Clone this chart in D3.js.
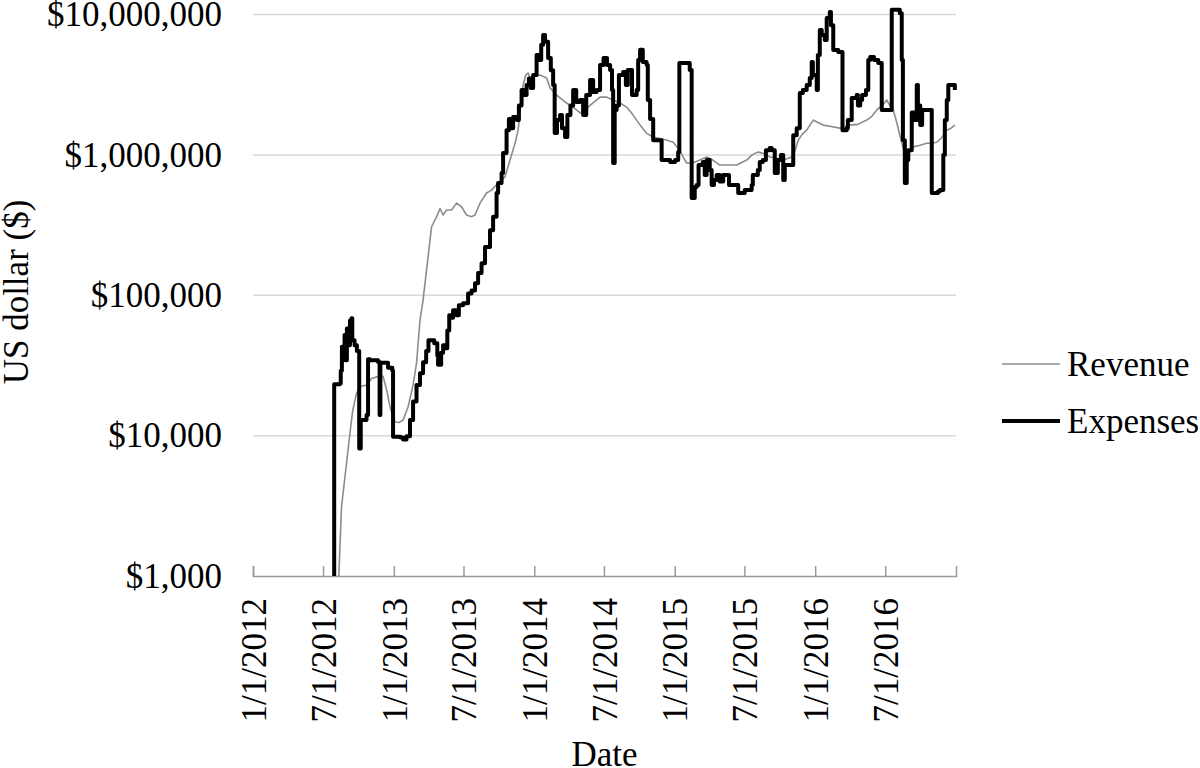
<!DOCTYPE html>
<html>
<head>
<meta charset="utf-8">
<script src="https://cdn.jsdelivr.net/npm/d3@7"></script>
<style>
  html, body { margin: 0; padding: 0; background: #fff; }
  svg { display: block; font-family: "Liberation Serif", "Times New Roman", serif; }
</style>
</head>
<body>
<div id="chart"></div>
<script>
// tick values
const yTickValues = [1e3, 1e4, 1e5, 1e6, 1e7];
const xTickDates = ["2012-01-01", "2012-07-01", "2013-01-01", "2013-07-01", "2014-01-01",
  "2014-07-01", "2015-01-01", "2015-07-01", "2016-01-01", "2016-07-01"];
const xDomain = ["2012-01-01", "2017-01-01"];
const seriesNames = ["Revenue", "Expenses"];

// Revenue
const revenue = [
  ["2012-08-11", 1000], ["2012-08-18", 3100], ["2012-09-09", 10400], ["2012-09-16", 15000],
  ["2012-09-26", 20000], ["2012-10-07", 22500], ["2012-10-22", 22900], ["2012-11-04", 25500],
  ["2012-11-17", 26200], ["2012-12-04", 26500], ["2012-12-14", 20800], ["2012-12-22", 16000],
  ["2013-01-04", 12500], ["2013-01-14", 12400], ["2013-01-25", 12900], ["2013-02-07", 16000],
  ["2013-02-20", 22900], ["2013-03-01", 32800], ["2013-03-10", 66400], ["2013-03-18", 92200],
  ["2013-03-27", 151000], ["2013-04-09", 307000], ["2013-04-22", 362000], ["2013-05-01", 415000],
  ["2013-05-09", 373000], ["2013-05-18", 405000], ["2013-05-31", 405000], ["2013-06-13", 453000],
  ["2013-06-26", 427000], ["2013-07-09", 373000], ["2013-07-22", 362000], ["2013-07-31", 373000],
  ["2013-08-13", 453000], ["2013-08-30", 535000], ["2013-09-12", 561000], ["2013-09-29", 630000],
  ["2013-10-17", 698000], ["2013-10-30", 918000], ["2013-11-12", 1210000], ["2013-11-20", 1500000],
  ["2013-11-27", 2250000], ["2013-12-03", 3150000], ["2013-12-10", 3710000], ["2013-12-16", 3830000],
  ["2013-12-22", 3450000], ["2013-12-29", 3600000], ["2014-01-16", 3710000], ["2014-02-02", 3530000],
  ["2014-02-11", 3000000], ["2014-02-28", 2670000], ["2014-03-26", 2340000], ["2014-04-12", 2190000],
  ["2014-04-30", 1990000], ["2014-05-13", 2090000], ["2014-05-26", 2250000], ["2014-06-21", 2580000],
  ["2014-07-07", 2580000], ["2014-07-25", 2460000], ["2014-08-12", 2340000], ["2014-08-29", 2190000],
  ["2014-09-15", 1920000], ["2014-10-03", 1630000], ["2014-10-19", 1430000], ["2014-11-06", 1340000],
  ["2014-11-24", 1310000], ["2014-12-12", 1270000], ["2014-12-28", 1230000], ["2015-01-14", 1080000],
  ["2015-01-23", 965000], ["2015-02-01", 875000], ["2015-02-17", 875000], ["2015-03-07", 918000],
  ["2015-03-25", 965000], ["2015-04-10", 918000], ["2015-04-28", 846000], ["2015-05-19", 846000],
  ["2015-06-11", 846000], ["2015-07-07", 918000], ["2015-07-21", 1000000], ["2015-08-06", 1050000],
  ["2015-08-21", 1020000], ["2015-09-05", 965000], ["2015-09-21", 950000], ["2015-10-10", 918000],
  ["2015-11-01", 965000], ["2015-11-10", 1080000], ["2015-11-18", 1270000], ["2015-11-28", 1400000],
  ["2015-12-10", 1500000], ["2015-12-27", 1770000], ["2016-01-08", 1700000], ["2016-01-22", 1630000],
  ["2016-02-08", 1600000], ["2016-03-05", 1550000], ["2016-03-31", 1630000], ["2016-04-21", 1650000],
  ["2016-05-14", 1770000], ["2016-05-28", 1890000], ["2016-06-09", 2090000], ["2016-06-23", 2250000],
  ["2016-07-05", 2460000], ["2016-07-13", 2250000], ["2016-07-22", 2090000], ["2016-07-31", 1700000],
  ["2016-08-08", 1380000], ["2016-08-21", 1000000], ["2016-08-31", 1080000], ["2016-09-12", 1140000],
  ["2016-09-30", 1170000], ["2016-10-17", 1210000], ["2016-10-28", 1210000], ["2016-11-12", 1230000],
  ["2016-11-23", 1310000], ["2016-12-08", 1500000], ["2016-12-19", 1550000], ["2016-12-29", 1630000]
];

// Expenses, drawn as steps
const expenses = [
  ["2012-07-30", 1000], ["2012-07-30", 23200], ["2012-08-14", 23500], ["2012-08-16", 29000],
  ["2012-08-19", 43000], ["2012-08-22", 38000], ["2012-08-26", 52000], ["2012-08-28", 34500],
  ["2012-09-01", 58000], ["2012-09-05", 44000], ["2012-09-09", 66000], ["2012-09-13", 68700],
  ["2012-09-15", 47800], ["2012-09-21", 44000], ["2012-09-27", 40000], ["2012-10-03", 8100],
  ["2012-10-07", 12900], ["2012-10-22", 14000], ["2012-10-26", 35000], ["2012-10-31", 34500],
  ["2012-11-21", 33500], ["2012-11-25", 33000], ["2012-11-25", 14000], ["2012-11-27", 33000],
  ["2012-12-17", 30500], ["2012-12-28", 29000], ["2012-12-30", 9800], ["2013-01-18", 9700],
  ["2013-01-25", 9400], ["2013-02-03", 9900], ["2013-02-12", 12900], ["2013-02-20", 17500],
  ["2013-03-01", 22900], ["2013-03-10", 27800], ["2013-03-18", 33300], ["2013-03-26", 40000],
  ["2013-04-01", 47800], ["2013-04-08", 47800], ["2013-04-16", 45500], ["2013-04-24", 37000],
  ["2013-04-26", 32000], ["2013-05-04", 39000], ["2013-05-09", 44000], ["2013-05-14", 42000],
  ["2013-05-20", 56000], ["2013-05-25", 72000], ["2013-05-30", 69000], ["2013-06-04", 78300],
  ["2013-06-12", 72000], ["2013-06-19", 85000], ["2013-06-30", 87800], ["2013-07-13", 103000],
  ["2013-07-22", 108000], ["2013-07-31", 122000], ["2013-08-08", 144000], ["2013-08-17", 169000],
  ["2013-08-26", 221000], ["2013-09-08", 291000], ["2013-09-16", 362000], ["2013-09-25", 535000],
  ["2013-09-29", 630000], ["2013-10-08", 742000], ["2013-10-12", 1030000], ["2013-10-21", 1500000],
  ["2013-10-27", 1800000], ["2013-11-02", 1550000], ["2013-11-07", 1860000], ["2013-11-17", 1770000],
  ["2013-11-22", 2250000], ["2013-11-29", 2900000], ["2013-12-05", 2670000], ["2013-12-12", 3150000],
  ["2013-12-18", 3500000], ["2013-12-23", 3000000], ["2013-12-29", 3700000], ["2014-01-07", 5140000],
  ["2014-01-13", 4740000], ["2014-01-19", 6100000], ["2014-01-24", 7150000], ["2014-01-29", 6400000],
  ["2014-02-06", 4900000], ["2014-02-13", 4000000], ["2014-02-19", 3150000], ["2014-02-23", 1430000],
  ["2014-03-01", 1770000], ["2014-03-09", 1920000], ["2014-03-14", 1550000], ["2014-03-22", 1340000],
  ["2014-03-28", 1920000], ["2014-04-05", 2250000], ["2014-04-12", 2900000], ["2014-04-20", 2380000],
  ["2014-04-30", 2460000], ["2014-05-08", 1920000], ["2014-05-16", 2670000], ["2014-05-26", 3410000],
  ["2014-06-03", 2800000], ["2014-06-12", 2900000], ["2014-06-21", 4360000], ["2014-06-30", 4900000],
  ["2014-07-09", 4360000], ["2014-07-17", 4020000], ["2014-07-22", 2900000], ["2014-07-25", 875000],
  ["2014-07-29", 2090000], ["2014-08-03", 2250000], ["2014-08-09", 3710000], ["2014-08-20", 3900000],
  ["2014-08-27", 3150000], ["2014-09-01", 4020000], ["2014-09-12", 2670000], ["2014-09-24", 2900000],
  ["2014-09-28", 4740000], ["2014-10-03", 5600000], ["2014-10-10", 4590000], ["2014-10-20", 4360000],
  ["2014-10-23", 2460000], ["2014-10-29", 1800000], ["2014-11-06", 1270000], ["2014-11-24", 1270000],
  ["2014-11-28", 918000], ["2014-12-20", 889000], ["2015-01-02", 918000], ["2015-01-10", 1050000],
  ["2015-01-13", 4510000], ["2015-01-22", 4510000], ["2015-02-09", 4020000], ["2015-02-14", 492000],
  ["2015-02-22", 590000], ["2015-02-27", 610000], ["2015-03-04", 846000], ["2015-03-15", 889000],
  ["2015-03-20", 718000], ["2015-03-25", 918000], ["2015-04-02", 780000], ["2015-04-07", 610000],
  ["2015-04-13", 661000], ["2015-04-20", 718000], ["2015-04-28", 645000], ["2015-05-07", 718000],
  ["2015-05-16", 718000], ["2015-05-22", 610000], ["2015-06-11", 610000], ["2015-06-15", 535000],
  ["2015-07-02", 561000], ["2015-07-20", 610000], ["2015-07-23", 718000], ["2015-08-05", 780000],
  ["2015-08-10", 889000], ["2015-08-18", 918000], ["2015-08-26", 1080000], ["2015-09-05", 1120000],
  ["2015-09-10", 1080000], ["2015-09-18", 742000], ["2015-09-26", 918000], ["2015-10-04", 1000000],
  ["2015-10-10", 661000], ["2015-10-14", 846000], ["2015-10-27", 846000], ["2015-11-05", 1380000],
  ["2015-11-14", 1550000], ["2015-11-22", 2760000], ["2015-11-30", 2900000], ["2015-12-10", 3150000],
  ["2015-12-18", 3530000], ["2015-12-23", 4590000], ["2015-12-26", 3710000], ["2016-01-05", 2900000],
  ["2016-01-08", 5140000], ["2016-01-13", 7750000], ["2016-01-18", 7150000], ["2016-01-26", 6580000],
  ["2016-01-31", 9450000], ["2016-02-08", 10400000], ["2016-02-11", 8400000], ["2016-02-17", 5580000],
  ["2016-03-01", 5400000], ["2016-03-05", 5400000], ["2016-03-12", 1500000], ["2016-03-23", 1550000],
  ["2016-03-26", 1770000], ["2016-04-05", 2540000], ["2016-04-18", 2670000], ["2016-04-21", 2250000],
  ["2016-04-27", 2460000], ["2016-05-02", 2670000], ["2016-05-12", 2900000], ["2016-05-18", 4740000],
  ["2016-05-23", 4980000], ["2016-06-02", 4740000], ["2016-06-13", 4510000], ["2016-06-22", 2090000],
  ["2016-07-13", 2090000], ["2016-07-18", 10800000], ["2016-07-31", 10800000], ["2016-08-08", 10200000],
  ["2016-08-13", 4740000], ["2016-08-16", 1270000], ["2016-08-21", 630000], ["2016-08-26", 918000],
  ["2016-08-30", 1080000], ["2016-09-08", 2000000], ["2016-09-14", 1770000], ["2016-09-21", 3150000],
  ["2016-09-24", 2250000], ["2016-09-30", 1630000], ["2016-10-05", 2090000], ["2016-10-25", 2090000],
  ["2016-10-30", 535000], ["2016-11-15", 548000], ["2016-11-20", 561000], ["2016-11-29", 1000000],
  ["2016-12-03", 1770000], ["2016-12-08", 2460000], ["2016-12-12", 3150000], ["2016-12-21", 3150000],
  ["2016-12-29", 2900000]
];

(function () {
    const width = 1200, height = 768;
    const margin = { top: 14.5, right: 244, bottom: 192, left: 253 };
    const parse = d3.timeParse("%Y-%m-%d");
    const fmtTick = d3.timeFormat("%-m/%-d/%Y");
    const fontSize = 35;

    const svg = d3.select("#chart").append("svg")
        .attr("width", width)
        .attr("height", height)
        .style("font-size", fontSize + "px");

    const x = d3.scaleTime()
        .domain(xDomain.map(parse))
        .range([margin.left, width - margin.right]);

    const y = d3.scaleLog()
        .domain([1e3, 1e7])
        .range([height - margin.bottom, margin.top]);

    // gridlines
    svg.append("g")
        .selectAll("line")
        .data(yTickValues.slice(1))
        .join("line")
        .attr("x1", x.range()[0])
        .attr("x2", x.range()[1])
        .attr("y1", d => y(d))
        .attr("y2", d => y(d))
        .attr("stroke", "#d9d9d9")
        .attr("stroke-width", 1.5);

    // y axis (labels only)
    const yAxis = svg.append("g")
        .attr("transform", `translate(${margin.left},0)`)
        .call(d3.axisLeft(y)
            .tickValues(yTickValues)
            .tickFormat(d => "$" + d3.format(",")(d))
            .tickSize(0)
            .tickPadding(31));
    yAxis.select(".domain").remove();
    yAxis.selectAll("text")
        .attr("fill", "#000")
        .style("font-family", "Liberation Serif")
        .style("font-size", fontSize + "px");

    // x axis, ticks point up into the plot
    const xAxis = svg.append("g")
        .attr("transform", `translate(0,${y(1e3)})`)
        .call(d3.axisBottom(x)
            .tickValues(xTickDates.map(parse))
            .tickFormat(fmtTick)
            .tickSizeInner(-10)
            .tickSizeOuter(-10));
    xAxis.select(".domain").attr("stroke", "#999").attr("stroke-width", 1.5);
    xAxis.selectAll(".tick line").attr("stroke", "#999").attr("stroke-width", 1.5);
    xAxis.selectAll("text")
        .attr("fill", "#000")
        .attr("transform", "rotate(-90)")
        .attr("x", -22)
        .attr("y", 0)
        .attr("dy", "0.35em")
        .style("text-anchor", "end")
        .style("font-family", "Liberation Serif")
        .style("font-size", fontSize + "px");

    // lines
    const line = d3.line()
        .x(d => x(parse(d[0])))
        .y(d => y(d[1]));

    svg.append("path")
        .datum(revenue)
        .attr("fill", "none")
        .attr("stroke", "#8c8c8c")
        .attr("stroke-width", 1.6)
        .attr("stroke-linejoin", "round")
        .attr("d", line);

    svg.append("path")
        .datum(expenses)
        .attr("fill", "none")
        .attr("stroke", "#000")
        .attr("stroke-width", 4)
        .attr("stroke-linejoin", "round")
        .attr("d", line.curve(d3.curveStepAfter));

    // axis titles
    svg.append("text")
        .attr("x", (x.range()[0] + x.range()[1]) / 2)
        .attr("y", 766)
        .attr("text-anchor", "middle")
        .text("Date");

    svg.append("text")
        .attr("transform", "translate(28,292) rotate(-90)")
        .attr("text-anchor", "middle")
        .text("US dollar ($)");

    // legend
    const legend = svg.append("g")
        .selectAll("g")
        .data(seriesNames)
        .join("g")
        .attr("transform", (d, i) => `translate(1002,${364 + i * 57})`);

    legend.append("line")
        .attr("x1", 0)
        .attr("x2", 58)
        .attr("stroke", (d, i) => i === 0 ? "#8c8c8c" : "#000")
        .attr("stroke-width", (d, i) => i === 0 ? 1.6 : 4);

    legend.append("text")
        .attr("x", 65)
        .attr("dy", "0.33em")
        .text(d => d);
})();
</script>
</body>
</html>
